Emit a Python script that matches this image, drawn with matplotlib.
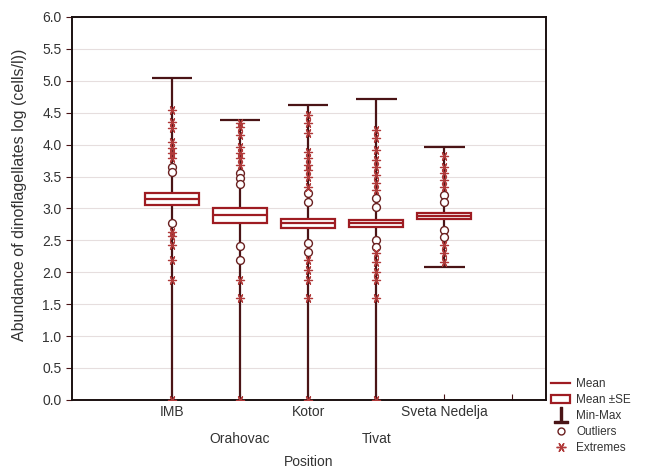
import numpy as np
import matplotlib.pyplot as plt
from matplotlib.lines import Line2D
from matplotlib.patches import Rectangle

plt.rcParams['font.family'] = ['Liberation Sans', 'DejaVu Sans']

# sampling sites along the x axis (a sixth empty slot follows)
positions = ["IMB", "Orahovac", "Kotor", "Tivat", "Sveta Nedelja"]
xpos = [1, 2, 3, 4, 5]

# log abundance summaries per site
means = [3.15, 2.89, 2.77, 2.77, 2.88]
se_low = [3.05, 2.77, 2.69, 2.71, 2.84]
se_high = [3.24, 3.01, 2.84, 2.82, 2.93]
mins = [0.0, 0.0, 0.0, 0.0, 2.08]
maxs = [5.04, 4.39, 4.62, 4.72, 3.96]

outliers = [
    [3.65, 3.57, 2.77],
    [3.56, 3.48, 3.38, 2.41, 2.19],
    [3.24, 3.10, 2.46, 2.32],
    [3.16, 3.03, 2.51, 2.40],
    [3.21, 3.10, 2.66, 2.55],
]
extremes = [
    [4.54, 4.36, 4.26, 4.04, 3.95, 3.87, 3.79, 2.63, 2.56, 2.43, 2.19, 1.88, 0.0],
    [4.34, 4.28, 4.15, 3.96, 3.87, 3.79, 3.68, 1.88, 1.60, 0.0],
    [4.47, 4.34, 4.18, 3.89, 3.79, 3.68, 3.60, 3.49, 3.34, 2.19, 2.04, 1.88, 1.60, 0.0],
    [4.23, 4.10, 3.92, 3.76, 3.65, 3.52, 3.40, 3.29, 2.30, 2.16, 2.00, 1.88, 1.60, 0.0],
    [3.82, 3.65, 3.55, 3.45, 3.34, 2.43, 2.30, 2.16],
]

red = "#9e1c22"
dark = "#4a1416"
star = (6, 2, 90)

fig = plt.figure(figsize=(6.48, 4.71), dpi=100)
ax = fig.add_axes([0.111, 0.151, 0.732, 0.813])

ax.set_ylim(0, 6.0)
ax.set_xlim(-0.47, 6.5)
ax.set_yticks(np.arange(0, 6.01, 0.5))
ax.set_yticklabels([f"{v:.1f}" for v in np.arange(0, 6.01, 0.5)], fontsize=10, color="#333333")
ax.grid(axis="y", color="#e6dede", lw=0.8)
ax.set_axisbelow(True)

ax.set_xticks([1, 2, 3, 4, 5, 6])
ax.set_xticklabels(positions + [""], fontsize=10, color="#333333")
for i, lbl in enumerate(ax.get_xticklabels()):
    if i % 2 == 1:
        lbl.set_y(-0.07)
ax.tick_params(axis="x", direction="in", length=4, color=dark)
ax.tick_params(axis="y", direction="out", length=4, color=dark)
for s in ax.spines.values():
    s.set_linewidth(1.4)
    s.set_color("#1a1010")

bw = 0.8   # box width
cw = 0.6   # cap width
ax.vlines(xpos, mins, maxs, color=dark, lw=1.6, zorder=2)
ax.hlines(maxs, [x - cw / 2 for x in xpos], [x + cw / 2 for x in xpos], color=dark, lw=1.6, zorder=2)
for x, lo in zip(xpos, mins):
    if lo > 0:
        ax.hlines(lo, x - cw / 2, x + cw / 2, color=dark, lw=1.6, zorder=2)
for x, lo, hi in zip(xpos, se_low, se_high):
    ax.add_patch(Rectangle((x - bw / 2, lo), bw, hi - lo, facecolor="white",
                           edgecolor=red, lw=1.6, zorder=3))
ax.hlines(means, [x - bw / 2 for x in xpos], [x + bw / 2 for x in xpos], color=red, lw=1.6, zorder=4)

for x, vals in zip(xpos, outliers):
    ax.scatter([x] * len(vals), vals, marker="o", s=32, facecolor="white",
               edgecolor="#6a2020", lw=1.0, zorder=5)
for x, vals in zip(xpos, extremes):
    ax.scatter([x] * len(vals), vals, marker=star, s=34, color="#b03a3a", lw=0.9, zorder=5)

ax.set_ylabel("Abundance of dinoflagellates log (cells/l))", fontsize=11.5, color="#333333")
ax.yaxis.set_label_coords(-0.095, 0.535)
ax.set_xlabel("Position", fontsize=10, color="#333333")
ax.xaxis.set_label_coords(0.5, -0.145)

handles = [
    Line2D([], [], color=red, lw=1.6),
    Rectangle((0, 0), 1, 1, facecolor="white", edgecolor=red, lw=1.6),
    Line2D([], [], marker=r"$\perp$", color=dark, linestyle="none", markersize=11),
    Line2D([], [], marker="o", markerfacecolor="white", markeredgecolor="#6a2020",
           linestyle="none", markersize=5),
    Line2D([], [], marker=star, color="#b03a3a", linestyle="none", markersize=7),
]
labels = ["Mean", "Mean \u00b1SE", "Min-Max", "Outliers", "Extremes"]
fig.legend(handles, labels, loc="lower left", bbox_to_anchor=(0.838, 0.018),
           frameon=False, fontsize=8.5, handlelength=1.6, handletextpad=0.5,
           labelspacing=0.35, borderpad=0.2, labelcolor="#333333")

fig.savefig("out.png", dpi=100)
